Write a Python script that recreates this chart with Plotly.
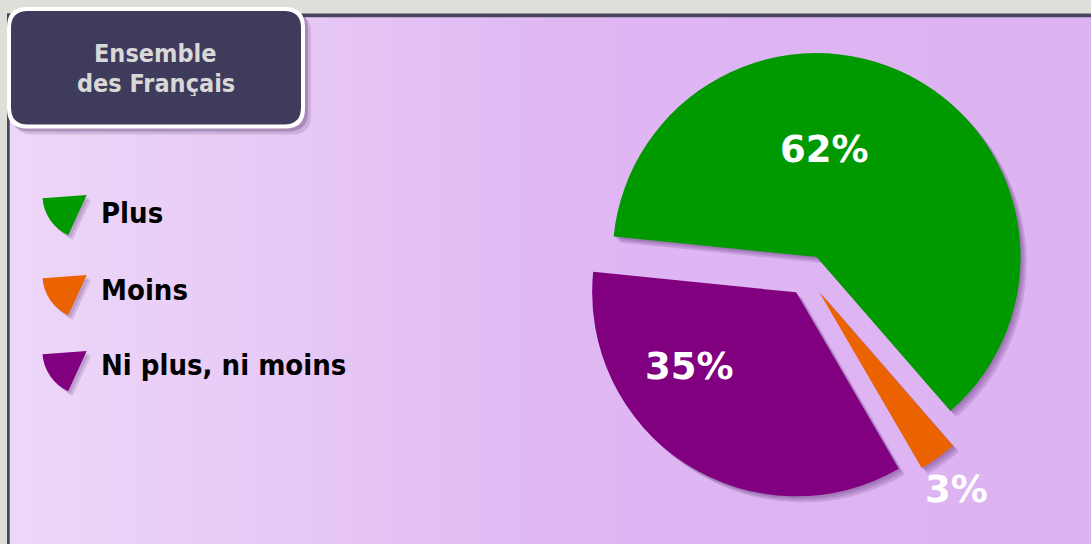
import plotly.graph_objects as go

W, H = 1091, 544

# ---- data -------------------------------------------------------------
categories = ["Plus", "Moins", "Ni plus, ni moins"]
values = [62, 3, 35]
colors = ["#009900", "#EB6300", "#800080"]
title_lines = ["Ensemble", "des Français"]

# ---- geometry / style -------------------------------------------------
PIE_CX, PIE_CY, PIE_R, PULL = 807.2, 275.2, 204, 0.1
ROTATION = -84.2
LABEL_POS = [(824.3, 149.0), (956.0, 489.0), (689.0, 366.0)]
ICON_APEX = [(86.7, 195.0), (86.7, 275.0), (86.7, 351.0)]
ICON_R = 44.3
ICON_SPAN = 61
ICON_ROT = 204.7
LEGEND_TEXT_Y = [212.5, 290.0, 365.0]
TITLE_Y = [54.0, 83.5]
SHADOW = "rgba(70,25,95,0.15)"


def px(x):
    return x / W


def py(y):
    return 1 - y / H


def square_domain(cx, cy, half, dx=0.0, dy=0.0):
    return dict(x=[px(cx - half + dx), px(cx + half + dx)],
                y=[py(cy + half + dy), py(cy - half + dy)])


def rounded_rect(x0, y0, x1, y1, r):
    pts = [
        f"M{px(x0 + r)},{py(y0)}",
        f"L{px(x1 - r)},{py(y0)}",
        f"Q{px(x1)},{py(y0)} {px(x1)},{py(y0 + r)}",
        f"L{px(x1)},{py(y1 - r)}",
        f"Q{px(x1)},{py(y1)} {px(x1 - r)},{py(y1)}",
        f"L{px(x0 + r)},{py(y1)}",
        f"Q{px(x0)},{py(y1)} {px(x0)},{py(y1 - r)}",
        f"L{px(x0)},{py(y0 + r)}",
        f"Q{px(x0)},{py(y0)} {px(x0 + r)},{py(y0)}",
        "Z",
    ]
    return " ".join(pts)


fig = go.Figure()

# soft drop shadow under the main pie
half = PIE_R * (1 + PULL)
for off in (2.0, 4.0, 6.0):
    fig.add_trace(go.Pie(
        values=values,
        marker=dict(colors=[SHADOW] * len(values), line=dict(width=0)),
        pull=[PULL] * len(values), sort=False, direction="clockwise",
        rotation=ROTATION, textinfo="none", hoverinfo="skip",
        showlegend=False, domain=square_domain(PIE_CX, PIE_CY, half, off, off),
    ))

# main pie
fig.add_trace(go.Pie(
    labels=categories, values=values,
    marker=dict(colors=colors, line=dict(width=0)),
    pull=[PULL] * len(values), sort=False, direction="clockwise",
    rotation=ROTATION, textinfo="none", hoverinfo="label+percent",
    showlegend=False, domain=square_domain(PIE_CX, PIE_CY, half),
))

# legend swatches: small pie wedges
for (ax, ay), col, name in zip(ICON_APEX, colors, categories):
    for off, c in ((2.5, SHADOW), (4.5, SHADOW), (0, col)):
        fig.add_trace(go.Pie(
            values=[ICON_SPAN, 360 - ICON_SPAN],
            labels=[f"{name}-{off}", f"rest-{name}-{off}"],
            marker=dict(colors=[c, "rgba(0,0,0,0)"], line=dict(width=0)),
            sort=False, direction="clockwise", rotation=ICON_ROT,
            textinfo="none", hoverinfo="skip", showlegend=False,
            domain=square_domain(ax, ay, ICON_R, off, off),
        ))

shapes = []

# lavender background gradient (left to right)
stops = [(9, (237, 215, 248)), (300, (231, 200, 246)),
         (560, (223, 183, 243)), (1091, (221, 178, 242))]
n = 120
x_start = 9.5
for i in range(n):
    xa = x_start + (W - x_start) * i / n
    xb = x_start + (W - x_start) * (i + 1) / n
    xm = (xa + xb) / 2
    for (s0, c0), (s1, c1) in zip(stops[:-1], stops[1:]):
        if s0 <= xm <= s1:
            t = (xm - s0) / (s1 - s0)
            c = tuple(round(a + (b - a) * t) for a, b in zip(c0, c1))
            break
    shapes.append(dict(type="rect", xref="paper", yref="paper", layer="below",
                       x0=px(xa), x1=px(xb) + 0.0005, y0=0, y1=py(17),
                       fillcolor=f"rgb{c}", line=dict(width=0)))

# frame lines
shapes.append(dict(type="rect", xref="paper", yref="paper", layer="below",
                   x0=px(7), x1=1, y0=py(17.3), y1=py(13.5),
                   fillcolor="#46465f", line=dict(width=0)))
shapes.append(dict(type="rect", xref="paper", yref="paper", layer="below",
                   x0=px(7), x1=px(9.7), y0=0, y1=py(13.5),
                   fillcolor="#46465f", line=dict(width=0)))

# title box with shadow
for off, op in ((3, 0.25), (6, 0.15)):
    shapes.append(dict(type="path", xref="paper", yref="paper", layer="above",
                       path=rounded_rect(7 + off, 7 + off, 305 + off, 128.5 + off, 20),
                       fillcolor=f"rgba(60,30,80,{op})", line=dict(width=0)))
shapes.append(dict(type="path", xref="paper", yref="paper", layer="above",
                   path=rounded_rect(7, 7, 305, 128.5, 20),
                   fillcolor="#ffffff", line=dict(width=0)))
shapes.append(dict(type="path", xref="paper", yref="paper", layer="above",
                   path=rounded_rect(11, 11, 301, 124.5, 17),
                   fillcolor="#3e3b5c", line=dict(width=0)))

annotations = []
for line, yc in zip(title_lines, TITLE_Y):
    annotations.append(dict(
        text=line, x=px(155.5), y=py(yc), xref="paper", yref="paper",
        xanchor="center", yanchor="middle", showarrow=False,
        height=25, borderpad=0,
        font=dict(family="DejaVu Sans Condensed", size=25, color="#d8d8d8",
                  weight="bold")))

for name, yc in zip(categories, LEGEND_TEXT_Y):
    annotations.append(dict(
        text=name, x=px(98.5), y=py(yc), xref="paper", yref="paper",
        xanchor="left", yanchor="middle", showarrow=False,
        font=dict(family="DejaVu Sans Condensed", size=29, color="#000000",
                  weight="bold")))

for v, (lx, ly) in zip(values, LABEL_POS):
    annotations.append(dict(
        text=f"{v}%", x=px(lx), y=py(ly), xref="paper", yref="paper",
        xanchor="center", yanchor="middle", showarrow=False,
        font=dict(family="DejaVu Sans", size=37, color="#ffffff",
                  weight="bold")))

fig.update_layout(
    width=W, height=H,
    margin=dict(l=0, r=0, t=0, b=0),
    paper_bgcolor="#dedfd8",
    plot_bgcolor="rgba(0,0,0,0)",
    shapes=shapes,
    annotations=annotations,
)

fig.write_html("out.html", config={"displayModeBar": False})
